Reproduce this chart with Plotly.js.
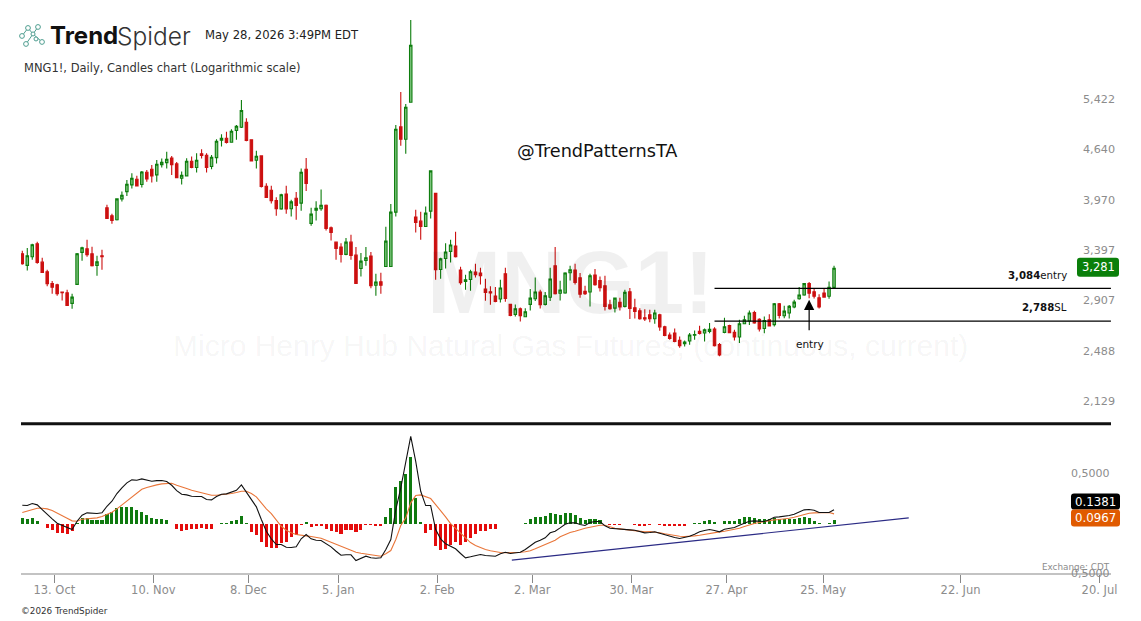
<!DOCTYPE html>
<html><head><meta charset="utf-8">
<script src="https://cdn.plot.ly/plotly-3.0.1.min.js"></script>
<style>html,body{margin:0;padding:0;background:#fff}#c{width:1141px;height:621px}</style></head>
<body><div id="c"></div>
<script>
const opens=[3432,3311,3400,3539,3344,3246,3129,3119,3049,3043,2944,3122,3446,3485,3432,3311,3410,3954,3858,3811,4065,4158,4245,4320,4250,4414,4455,4378,4519,4547,4613,4529,4333,4365,4566,4478,4672,4652,4492,4618,4873,4903,4843,5020,5072,5151,4878,4581,4642,4227,4176,4044,3942,4126,3944,4074,4013,4455,3769,3926,3944,3987,3718,3557,3503,3425,3557,3417,3279,3361,3407,3113,3148,3300,3300,3902,5077,4888,5480,3843,3795,3733,3914,4135,3269,3382,3457,3514,3263,3151,3170,3243,3233,3078,3052,3012,2984,3226,2935,2846,2896,2825,2935,2986,3049,2935,3000,3307,3037,3040,3236,3263,3187,3055,3049,3213,3160,3109,2932,2901,2953,2917,3052,2904,2878,2816,2842,2808,2842,2739,2670,2687,2626,2600,2621,2668,2700,2687,2700,2720,2592,2692,2750,2692,2654,2765,2788,2863,2802,2725,2799,2757,2941,2834,2858,2911,2986,3021,3129,3052,2996,3040,3009,3093];
const highs=[3464,3492,3539,3561,3390,3266,3155,3129,3055,3071,3034,3439,3507,3583,3507,3410,3474,3991,3882,4074,4158,4311,4400,4365,4432,4446,4515,4585,4604,4701,4642,4556,4423,4608,4632,4682,4740,4682,4657,4888,4963,5000,5041,5109,5518,5215,4888,4716,4652,4267,4232,4086,4130,4232,4053,4154,4464,4613,3954,4036,4184,3995,3733,3565,3546,3602,3639,3503,3439,3503,3450,3226,3236,3730,4003,5109,5656,5451,7063,3930,3906,3971,4441,4135,3390,3546,3583,3672,3297,3216,3266,3327,3286,3177,3103,3097,3167,3286,2941,2935,2907,2901,3078,3189,3071,3049,3286,3503,3157,3240,3307,3327,3233,3109,3226,3273,3199,3206,2977,2999,2996,3071,3087,2986,2901,2892,2887,2887,2851,2748,2692,2725,2657,2626,2687,2708,2748,2725,2771,2735,2605,2816,2757,2714,2799,2834,2881,2878,2813,2828,2848,2948,2948,2923,2929,2977,3097,3135,3145,3078,3028,3087,3151,3307];
const lows=[3317,3259,3368,3327,3235,3103,3034,3015,2971,2923,2896,3118,3358,3400,3300,3206,3266,3823,3765,3803,4032,4103,4197,4223,4210,4285,4276,4285,4478,4464,4378,4335,4250,4356,4470,4409,4604,4409,4455,4533,4778,4824,4833,4878,5061,4858,4561,4464,4210,4078,4008,3860,3930,3882,3850,3811,3918,4167,3741,3803,3918,3687,3575,3368,3340,3417,3368,3125,3199,3307,3084,3015,3034,3293,3295,3850,4790,4672,5470,3664,3583,3726,3826,3167,3177,3279,3340,3393,3119,3071,3061,3190,3122,2968,2932,2955,2953,2959,2830,2828,2783,2820,2881,2965,2898,2925,2965,3025,2971,3034,3160,3122,2996,3021,2917,3110,3055,2881,2887,2863,2881,2908,2805,2810,2799,2788,2777,2765,2706,2660,2632,2611,2568,2578,2592,2632,2675,2618,2684,2578,2500,2684,2684,2626,2605,2760,2753,2765,2700,2684,2742,2742,2810,2813,2810,2901,2977,3015,2992,2989,2898,2996,2986,3087];
const closes=[3327,3410,3528,3340,3239,3129,3094,3034,3043,2926,3002,3432,3496,3421,3307,3347,3400,3826,3803,4065,4112,4254,4333,4232,4418,4324,4365,4525,4552,4595,4519,4341,4374,4566,4478,4581,4647,4478,4623,4858,4903,4838,5010,5088,5340,4868,4571,4637,4223,4082,4044,3944,4117,3942,4028,3983,4414,4263,3878,3950,3987,3710,3664,3488,3425,3557,3414,3132,3354,3390,3109,3145,3113,3568,3902,5041,4888,5396,6532,3780,3733,3890,4432,3266,3378,3450,3525,3400,3138,3167,3246,3216,3206,3046,3040,2962,3087,2989,2837,2896,2834,2869,2992,3049,2932,3015,3174,3034,3068,3233,3266,3141,3028,3034,3206,3119,3090,2917,2896,2992,2911,3046,2898,2872,2808,2806,2808,2858,2737,2667,2642,2618,2584,2613,2670,2674,2684,2714,2717,2584,2510,2739,2689,2654,2765,2799,2858,2771,2720,2793,2745,2941,2837,2875,2917,2956,3021,3129,3037,3009,2911,3002,3093,3281];
const hist=[.06,.05,.06,.03,-.007,-.047,-.067,-.09,-.09,-.10,-.077,.01,.053,.06,.04,.04,.04,.097,.113,.157,.167,.17,.167,.133,.113,.083,.053,.05,.043,.033,0,-.05,-.07,-.06,-.057,-.05,-.04,-.057,-.053,-.005,.005,.005,.03,.04,.08,.005,-.08,-.11,-.187,-.23,-.247,-.247,-.193,-.18,-.137,-.117,-.01,.013,-.03,-.027,-.02,-.05,-.07,-.087,-.10,-.067,-.06,-.087,-.06,-.01,-.017,-.027,-.02,.07,.16,.37,.43,.50,.663,.26,.02,-.09,-.06,-.22,-.267,-.253,-.217,-.187,-.21,-.187,-.14,-.10,-.07,-.07,-.05,-.05,-.007,0,-.007,0,0,.005,.047,.067,.07,.08,.11,.10,.09,.11,.11,.09,.06,.04,.05,.05,.037,0,-.013,-.013,-.013,0,-.003,-.01,-.02,-.02,-.013,-.007,-.013,-.02,-.02,-.02,-.02,-.02,0,.003,.01,.023,.04,.017,0,.03,.03,.03,.043,.067,.07,.06,.05,.047,.043,.057,.05,.05,.05,.05,.057,.063,.057,.03,.01,0,.01,.04];
const macd=[.183,.18,.20,.187,.14,.09,.047,.003,-.02,-.043,-.06,.023,.083,.107,.10,.10,.107,.173,.223,.30,.357,.407,.437,.433,.447,.437,.423,.43,.43,.42,.383,.33,.293,.287,.273,.27,.27,.24,.237,.27,.293,.297,.313,.333,.387,.313,.23,.167,.04,-.077,-.153,-.21,-.21,-.237,-.24,-.233,-.153,-.11,-.153,-.167,-.17,-.203,-.233,-.277,-.317,-.313,-.313,-.37,-.347,-.327,-.343,-.347,-.343,-.26,-.16,.14,.357,.607,.873,.623,.323,.18,.18,-.06,-.153,-.203,-.227,-.253,-.30,-.343,-.333,-.32,-.31,-.32,-.327,-.327,-.303,-.287,-.30,-.293,-.287,-.26,-.227,-.187,-.167,-.143,-.093,-.077,-.043,-.007,.007,.007,-.01,-.02,.01,.02,.02,-.023,-.047,-.05,-.05,-.057,-.063,-.067,-.08,-.093,-.09,-.083,-.097,-.113,-.13,-.14,-.15,-.14,-.127,-.107,-.083,-.07,-.06,-.07,-.083,-.057,-.047,-.04,-.017,.007,.023,.027,.02,.02,.037,.063,.067,.07,.08,.093,.113,.137,.14,.133,.11,.107,.11,.1381];
const signal=[.11,.123,.14,.153,.153,.147,.13,.107,.08,.053,.027,.023,.043,.047,.05,.057,.07,.09,.113,.147,.187,.23,.27,.307,.343,.36,.377,.387,.397,.403,.403,.383,.363,.35,.333,.32,.307,.293,.283,.283,.287,.293,.30,.31,.323,.323,.30,.267,.207,.147,.10,.04,-.027,-.067,-.093,-.11,-.12,-.123,-.13,-.137,-.147,-.167,-.187,-.213,-.227,-.247,-.267,-.287,-.297,-.307,-.313,-.32,-.327,-.303,-.27,-.16,-.02,.057,.207,.28,.287,.27,.25,.19,.133,.067,0,-.05,-.10,-.143,-.19,-.22,-.243,-.26,-.273,-.283,-.29,-.293,-.293,-.29,-.287,-.283,-.273,-.253,-.23,-.21,-.19,-.167,-.133,-.11,-.09,-.077,-.06,-.047,-.037,-.027,-.017,-.017,-.033,-.047,-.053,-.06,-.067,-.073,-.077,-.083,-.08,-.083,-.093,-.103,-.113,-.12,-.127,-.13,-.13,-.123,-.117,-.107,-.097,-.09,-.083,-.077,-.067,-.06,-.047,-.03,-.013,0,.01,.02,.03,.037,.04,.043,.053,.063,.077,.093,.103,.107,.107,.11,.11,.0967];
const priceTicks=[5422,4640,3970,3397,2907,2488,2129];
const priceTickLabels=['5,422','4,640','3,970','3,397','2,907','2,488','2,129'];
const macdTicks=[.5,-.5];
const macdTickLabels=['0,5000','0,5000'];
const dateTickPos=[6.43,26.3,45.4,63.45,83.3,102.4,122.3,141.4,160.8,188.4,216.3];
const dateTickLabels=['13. Oct','10. Nov','8. Dec','5. Jan','2. Feb','2. Mar','30. Mar','27. Apr','25. May','22. Jun','20. Jul'];
const levels=[3084,2788];
const levelStart=139, levelEnd=218.6;
const trendX=[98.3,178], trendY=[-.367,.057];
const entryBar=158, entryPrice=2977;

const W=1141,H=621,L=21,R=1120,PB=574.5,SPLIT=424;
const idx=opens.map((_,i)=>i);
const px=x=>(x-L)/(R-L), py=y=>(PB-y)/PB;
const FONT='"DejaVu Sans",sans-serif';
const GREEN='#0d7d0d',RED='#cc1010',HG='#0f7a0f',HR='#e40c0c';

const traces=[
 {type:'candlestick',x:idx,open:opens,high:highs,low:lows,close:closes,xaxis:'x',yaxis:'y',whiskerwidth:0,
  increasing:{line:{color:GREEN,width:1.1},fillcolor:'#7fc47f'},
  decreasing:{line:{color:RED,width:1.1},fillcolor:RED},hoverinfo:'skip',showlegend:false},
 ...levels.map(v=>({type:'scatter',mode:'lines',x:[levelStart,levelEnd],y:[v,v],xaxis:'x',yaxis:'y',line:{color:'#000',width:1.2},hoverinfo:'skip',showlegend:false})),
 {type:'bar',x:idx,y:hist,xaxis:'x2',yaxis:'y2',width:.62,marker:{color:hist.map(v=>v>=0?HG:HR),line:{width:0}},hoverinfo:'skip',showlegend:false},
 {type:'scatter',mode:'lines',x:idx,y:signal,xaxis:'x2',yaxis:'y2',line:{color:'#e9763a',width:1.1},hoverinfo:'skip',showlegend:false},
 {type:'scatter',mode:'lines',x:idx,y:macd,xaxis:'x2',yaxis:'y2',line:{color:'#111',width:1.1},hoverinfo:'skip',showlegend:false},
 {type:'scatter',mode:'lines',x:trendX,y:trendY,xaxis:'x2',yaxis:'y2',line:{color:'#2b2b85',width:1.2},hoverinfo:'skip',showlegend:false}
];

function box(x0,y0,x1,y1,r,fill){
 const X=v=>px(v).toFixed(5),Y=v=>py(v).toFixed(5);
 const path=`M${X(x0+r)},${Y(y0)} L${X(x1-r)},${Y(y0)} Q${X(x1)},${Y(y0)} ${X(x1)},${Y(y0+r)} L${X(x1)},${Y(y1-r)} Q${X(x1)},${Y(y1)} ${X(x1-r)},${Y(y1)} L${X(x0+r)},${Y(y1)} Q${X(x0)},${Y(y1)} ${X(x0)},${Y(y1-r)} L${X(x0)},${Y(y0+r)} Q${X(x0)},${Y(y0)} ${X(x0+r)},${Y(y0)} Z`;
 return {type:'path',xref:'paper',yref:'paper',path,fillcolor:fill,line:{width:0},layer:'above'};
}
function hline(x0,x1,y,color,w){return {type:'line',xref:'paper',yref:'paper',x0:px(x0),x1:px(x1),y0:py(y),y1:py(y),line:{color,width:w}};}
function dot(x,y,r){return {type:'circle',xref:'paper',yref:'paper',x0:px(x-r),x1:px(x+r),y0:py(y-r),y1:py(y+r),line:{color:'#4f9e90',width:1},fillcolor:'#fff',layer:'above'};}
function txt(x,y,text,o={}){return Object.assign({xref:'paper',yref:'paper',x:px(x),y:py(y),text,showarrow:false,xanchor:'left',yanchor:'middle',font:{family:FONT,size:11,color:'#222'},borderpad:0},o);}

const logoLines=[[22,36,28,28],[28,28,33,34],[33,34,26,44],[33,34,42,42],[33,34,38,27]].map(a=>({type:'line',xref:'paper',yref:'paper',x0:px(a[0]),y0:py(a[1]),x1:px(a[2]),y1:py(a[3]),line:{color:'#4f9e90',width:1},layer:'above'}));

const priceLabelNotes=priceTicks.map((v,i)=>({xref:'paper',yref:'y',x:px(1116),y:Math.log10(v),yshift:6.5,text:priceTickLabels[i],showarrow:false,xanchor:'right',yanchor:'middle',borderpad:0,font:{family:FONT,size:11.2,color:'#8c8c8c'}}));
const macdLabelNotes=macdTicks.map((v,i)=>({xref:'paper',yref:'y2',x:px(1111),y:v,text:macdTickLabels[i],showarrow:false,xanchor:'right',yanchor:'middle',borderpad:0,font:{family:FONT,size:11,color:'#8c8c8c'}}));

const layout={
 width:W,height:H,paper_bgcolor:'#fff',plot_bgcolor:'rgba(0,0,0,0)',showlegend:false,dragmode:false,
 margin:{l:L,r:W-R,t:0,b:H-PB,pad:0},boxgap:.3,bargap:0,
 xaxis:{domain:[0,1],range:[(L-22.3)/4.98,(R-22.3)/4.98],anchor:'y',visible:false,rangeslider:{visible:false},fixedrange:true},
 yaxis:{domain:[(PB-SPLIT)/PB,1],type:'log',range:[3.3077,3.8758],side:'right',anchor:'x',showticklabels:false,ticks:'',showgrid:false,zeroline:false,showline:false,fixedrange:true},
 xaxis2:{domain:[0,1],range:[(L-22.3)/4.98,(R-22.3)/4.98],anchor:'y2',tickmode:'array',tickvals:dateTickPos,ticktext:dateTickLabels,ticks:'outside',ticklen:8,tickwidth:1,tickcolor:'#888',ticklabelstandoff:-3,
  showgrid:false,zeroline:false,showline:false,tickfont:{family:FONT,size:11.5,color:'#8c8c8c'},fixedrange:true},
 yaxis2:{domain:[0,(PB-SPLIT)/PB],range:[-.505,1.0],side:'right',anchor:'x2',showticklabels:false,ticks:'',showgrid:false,zeroline:false,showline:false,fixedrange:true},
 shapes:[
  hline(L,1111,SPLIT,'#111',3),
  hline(L,1111,PB,'#888',1.2),
  ...logoLines,
  dot(22,36,2.4),dot(28,28,2.4),dot(38,27,2.4),dot(33,34,2),dot(42,42,2.4),dot(26,44,2.4),dot(36,39,2),
  box(1077,258,1119,277,3,'#0a7f0a'),
  box(1071,494,1120,510,3,'#000'),
  box(1071,510,1120,527,3,'#e05a00')
 ],
 annotations:[
  txt(570,282,'MNG1!',{xanchor:'center',font:{family:'"Liberation Sans",sans-serif',size:89,color:'rgba(0,0,0,.06)',weight:700}}),
  txt(570,346,'Micro Henry Hub Natural Gas Futures, (continuous, current)',{xanchor:'center',font:{family:'"Liberation Sans",sans-serif',size:30,color:'rgba(0,0,0,.05)'}}),
  txt(49,36,'Trend',{font:{family:'Inter,sans-serif',size:24,color:'#111',weight:700}}),
  txt(116,36,'Spider',{font:{family:'Inter,sans-serif',size:24.5,color:'#333',weight:300}}),
  txt(204,35,'May 28, 2026 3:49PM EDT',{font:{family:FONT,size:11.6,color:'#222'}}),
  txt(22.5,68,'MNG1!, Daily, Candles chart (Logarithmic scale)',{font:{family:FONT,size:11.5,color:'#333'}}),
  txt(516,151,'@TrendPatternsTA',{font:{family:FONT,size:17.7,color:'#111'}}),
  txt(1067.5,276,'<b>3,084</b>entry',{xanchor:'right',font:{family:FONT,size:10.2,color:'#111'}}),
  txt(1067.5,308,'<b>2,788</b>SL',{xanchor:'right',font:{family:FONT,size:10.2,color:'#111'}}),
  txt(810,344,'entry',{xanchor:'center',font:{family:FONT,size:10.5,color:'#111'}}),
  {xref:'x',yref:'y',x:entryBar,y:Math.log10(entryPrice),text:'',showarrow:true,arrowhead:2,arrowsize:1.7,arrowwidth:1.2,arrowcolor:'#000',ax:0,ay:32,standoff:0},
  ...priceLabelNotes,
  ...macdLabelNotes,
  txt(1098,267,'3,281',{xanchor:'center',font:{family:FONT,size:11.5,color:'#fff'}}),
  txt(1095.5,502,'0.1381',{xanchor:'center',font:{family:FONT,size:11.8,color:'#fff'}}),
  txt(1095.5,518.5,'0.0967',{xanchor:'center',font:{family:FONT,size:11.8,color:'#fff'}}),
  txt(1111,567,'Exchange: CDT',{xanchor:'right',font:{family:FONT,size:8.8,color:'#8c8c8c'}}),
  txt(20,612,'©2026 TrendSpider',{font:{family:FONT,size:8.8,color:'#333'}})
 ]
};
Plotly.newPlot('c',traces,layout,{staticPlot:true,displayModeBar:false});
</script></body></html>
